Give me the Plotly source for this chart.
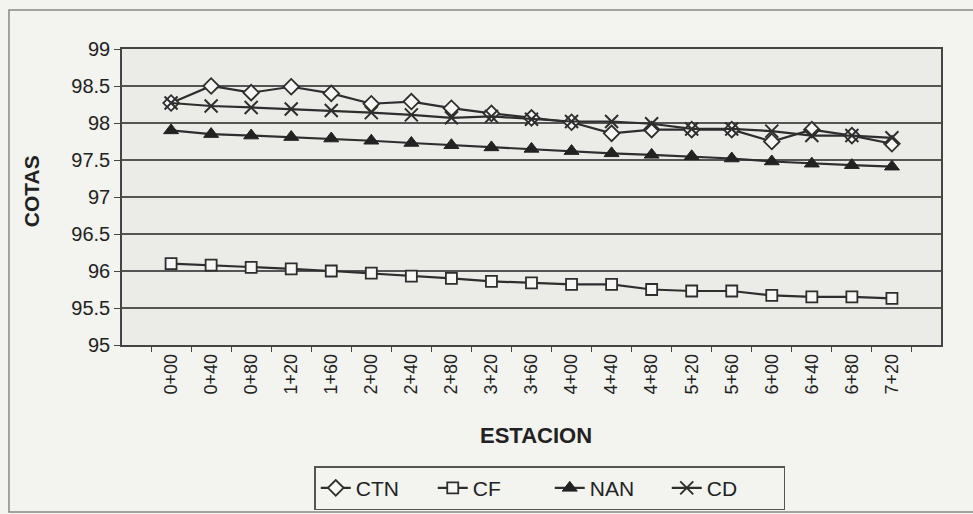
import plotly.graph_objects as go

estaciones = ["0+00", "0+40", "0+80", "1+20", "1+60", "2+00", "2+40", "2+80", "3+20", "3+60",
              "4+00", "4+40", "4+80", "5+20", "5+60", "6+00", "6+40", "6+80", "7+20"]
ctn = [98.27, 98.50, 98.41, 98.49, 98.40, 98.26, 98.29, 98.20, 98.13, 98.07,
       98.01, 97.86, 97.91, 97.91, 97.91, 97.75, 97.91, 97.83, 97.72]
cf = [96.10, 96.08, 96.05, 96.03, 96.00, 95.97, 95.93, 95.90, 95.86, 95.84,
      95.82, 95.82, 95.75, 95.73, 95.73, 95.67, 95.65, 95.65, 95.63]
nan = [97.90, 97.85, 97.83, 97.81, 97.79, 97.76, 97.73, 97.70, 97.67, 97.65,
       97.62, 97.59, 97.57, 97.55, 97.52, 97.48, 97.45, 97.43, 97.41]
cd = [98.27, 98.23, 98.21, 98.19, 98.17, 98.14, 98.11, 98.07, 98.09, 98.05,
      98.02, 98.02, 97.99, 97.92, 97.92, 97.89, 97.83, 97.83, 97.80]
y_ticks = [95, 95.5, 96, 96.5, 97, 97.5, 98, 98.5, 99]
y_labels = ["95", "95.5", "96", "96.5", "97", "97.5", "98", "98.5", "99"]

PAPER = "#f3f3ef"
PLOT = "#ebebe8"
INK = "#2e2e2e"
FONT = "Liberation Sans, Arial, sans-serif"

fig = go.Figure()
fig.add_trace(go.Scatter(x=estaciones, y=ctn, name="CTN", mode="lines+markers",
                         line=dict(color=INK, width=2.2),
                         marker=dict(symbol="diamond", size=12, color="#f7f7f5",
                                     line=dict(color=INK, width=1.8))))
fig.add_trace(go.Scatter(x=estaciones, y=cf, name="CF", mode="lines+markers",
                         line=dict(color=INK, width=2.2),
                         marker=dict(symbol="square", size=11, color="#f7f7f5",
                                     line=dict(color=INK, width=1.8))))
fig.add_trace(go.Scatter(x=estaciones, y=nan, name="NAN", mode="lines+markers",
                         line=dict(color=INK, width=2.2),
                         marker=dict(symbol="triangle-up", size=13, color="#222222",
                                     line=dict(color="#222222", width=1))))
fig.add_trace(go.Scatter(x=estaciones, y=cd, name="CD", mode="lines+markers",
                         line=dict(color=INK, width=2.2),
                         marker=dict(symbol="x-thin", size=13, color=INK,
                                     line=dict(color=INK, width=2))))

fig.update_layout(
    width=973, height=514,
    margin=dict(l=122, r=32, t=49, b=169, autoexpand=False),
    paper_bgcolor=PAPER, plot_bgcolor=PLOT,
    font=dict(family=FONT, color="#222222"),
    showlegend=True,
    legend=dict(orientation="h", xref="container", yref="container",
                x=0.565, xanchor="center", y=0.093, yanchor="top",
                bgcolor=PAPER, bordercolor="#555555", borderwidth=1.5,
                font=dict(size=21, family=FONT, color="#222222"), entrywidth=72, itemwidth=30,
                traceorder="normal"),
    xaxis=dict(type="category", showgrid=False, showline=True, linecolor="#444444",
               linewidth=1.5, mirror=True, ticks="outside", tickson="boundaries",
               ticklen=5, tickcolor="#444444", tickangle=-90,
               tickfont=dict(size=18, family=FONT, color="#222222")),
    yaxis=dict(range=[95, 99], tickvals=y_ticks, ticktext=y_labels,
               showgrid=True, gridcolor="#555555", gridwidth=1.5,
               showline=True, linecolor="#444444", linewidth=1.5, mirror=True,
               ticks="outside", ticklen=6, tickcolor="#444444", zeroline=False,
               tickfont=dict(size=20, family=FONT, color="#222222")),
    annotations=[
        dict(text="<b>COTAS</b>", x=-0.111, y=0.52, xref="paper", yref="paper",
             xanchor="center", yanchor="middle",
             textangle=-90, showarrow=False, font=dict(size=21, family=FONT)),
        dict(text="<b>ESTACION</b>", x=0.5055, y=-0.307, xref="paper", yref="paper",
             xanchor="center", yanchor="middle",
             showarrow=False, font=dict(size=22, family=FONT)),
    ],
    shapes=[dict(type="rect", xref="paper", yref="paper", x0=-0.138, x1=1.045,
                 y0=-0.564, y1=1.132, line=dict(color="#888888", width=1.5),
                 layer="below")],
)

fig.write_html("out.html")
